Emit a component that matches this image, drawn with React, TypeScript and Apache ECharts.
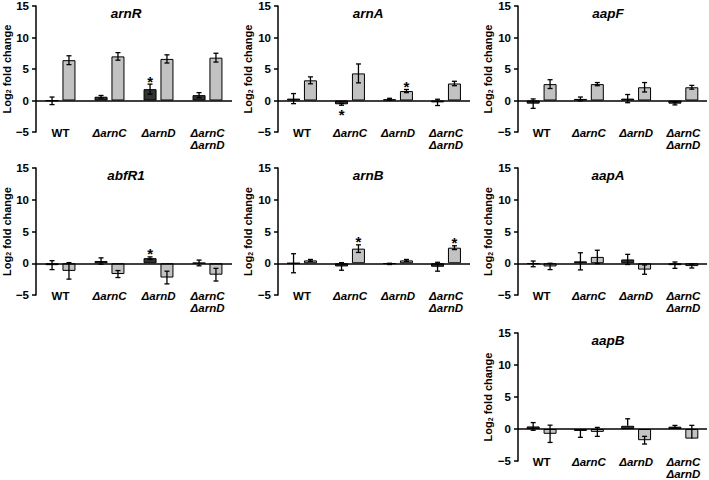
import React, { useEffect, useRef } from 'react';
import * as echarts from 'echarts';

// ---------- data ----------
const categories = ['WT', 'ΔarnC', 'ΔarnD', 'ΔarnC\nΔarnD'];
const yTicks = [-5, 0, 5, 10, 15];
const yTickLabels = ['−5', '0', '5', '10', '15'];
const genes = ['arnR', 'arnA', 'aapF', 'abfR1', 'arnB', 'aapA', 'aapB'];

// dark = first bar of each group, light = second bar; errors are [minus, plus] or symmetric numbers
const arnRDark = [-0.05, 0.6, 1.8, 0.85];
const arnRDarkErr = [0.6, 0.2, 0.8, 0.4];
const arnRLight = [6.4, 7.0, 6.6, 6.8];
const arnRLightErr = [0.7, 0.6, 0.65, 0.7];
const arnRStars = [[2, 0]];

const arnADark = [0.3, -0.6, 0.2, -0.3];
const arnADarkErr = [0.8, 0.15, 0.15, 0.5];
const arnALight = [3.2, 4.3, 1.5, 2.7];
const arnALightErr = [0.55, 1.5, 0.25, 0.35];
const arnAStars = [[1, 0], [2, 1]];

const aapFDark = [-0.5, 0.25, 0.3, -0.5];
const aapFDarkErr = [0.75, 0.3, 0.65, 0.2];
const aapFLight = [2.6, 2.6, 2.1, 2.1];
const aapFLightErr = [0.7, 0.25, 0.75, 0.3];
const aapFStars: number[][] = [];

const abfR1Dark = [-0.3, 0.35, 0.8, 0.05];
const abfR1DarkErr = [0.7, 0.5, 0.2, 0.45];
const abfR1Light = [-1.2, -1.7, -2.25, -1.8];
const abfR1LightErr = [1.3, 0.55, 1.0, 1.0];
const abfR1Stars = [[2, 0]];

const arnBDark = [0.0, -0.5, -0.1, -0.55];
const arnBDarkErr = [1.5, 0.6, 0.1, 0.7];
const arnBLight = [0.45, 2.3, 0.45, 2.45];
const arnBLightErr = [0.15, 0.6, 0.15, 0.3];
const arnBStars = [[1, 1], [3, 1]];

const aapADark = [-0.1, 0.3, 0.6, -0.3];
const aapADarkErr = [0.45, 1.35, 0.8, 0.5];
const aapALight = [-0.5, 1.0, -1.0, -0.45];
const aapALightErr = [0.5, 1.05, 0.73, 0.3];
const aapAStars: number[][] = [];

const aapBDark = [0.4, -0.3, 0.5, 0.36];
const aapBDarkErr: (number | number[])[] = [0.6, [1.0, 0], [0, 1.1], 0.2];
const aapBLight = [-0.75, -0.45, -1.75, -1.5];
const aapBLightErr: (number | number[])[] = [1.35, 0.7, 0.6, [0, 2.07]];
const aapBStars: number[][] = [];

const panelData = [
  [arnRDark, arnRDarkErr, arnRLight, arnRLightErr, arnRStars],
  [arnADark, arnADarkErr, arnALight, arnALightErr, arnAStars],
  [aapFDark, aapFDarkErr, aapFLight, aapFLightErr, aapFStars],
  [abfR1Dark, abfR1DarkErr, abfR1Light, abfR1LightErr, abfR1Stars],
  [arnBDark, arnBDarkErr, arnBLight, arnBLightErr, arnBStars],
  [aapADark, aapADarkErr, aapALight, aapALightErr, aapAStars],
  [aapBDark, aapBDarkErr, aapBLight, aapBLightErr, aapBStars],
] as any[];

// ---------- layout / style ----------
const layout = [
  { left: 36, top: 6, width: 196, height: 126 },
  { left: 278, top: 6, width: 192, height: 126 },
  { left: 518, top: 6, width: 189, height: 126 },
  { left: 36, top: 168, width: 196, height: 127 },
  { left: 278, top: 168, width: 192, height: 127 },
  { left: 518, top: 168, width: 189, height: 127 },
  { left: 518, top: 333, width: 189, height: 128 },
];
const FONT = '"Liberation Sans", Arial, sans-serif';
const BAR_W = 13;
const GAP = 0.3;
const OFF = (BAR_W + BAR_W * GAP) / 2;
const CAP = 2.5;
const DARK = '#333333';
const LIGHT = '#c2c2c2';
const LW = 1.5;

const errPair = (e: number | number[]) => (typeof e === 'number' ? [e, e] : e);

function buildOption() {
  const grid: any[] = [];
  const xAxis: any[] = [];
  const yAxis: any[] = [];
  const series: any[] = [];
  const graphic: any[] = [];

  layout.forEach((g, i) => {
    grid.push({ ...g, containLabel: false });
    xAxis.push({
      type: 'category',
      gridIndex: i,
      data: categories,
      axisLine: { show: false, onZero: false },
      axisTick: { show: false },
      axisLabel: {
        interval: 0,
        margin: -5,
        color: '#000',
        formatter: (v: string) =>
          v === 'WT' ? '{n|WT}' : v.split('\n').map((s) => `{i|${s}}`).join('\n'),
        rich: {
          n: { fontSize: 11.5, fontWeight: 'bold', fontFamily: FONT, color: '#000', lineHeight: 12 },
          i: { fontSize: 11.5, fontWeight: 'bold', fontStyle: 'italic', fontFamily: FONT, color: '#000', lineHeight: 12 },
        },
      },
    });
    yAxis.push({
      type: 'value',
      gridIndex: i,
      min: -5,
      max: 15,
      interval: 5,
      axisLine: { show: true, lineStyle: { color: '#000', width: LW } },
      axisTick: { show: true, length: 4, lineStyle: { color: '#000', width: LW } },
      splitLine: { show: false },
      axisLabel: {
        margin: 7,
        fontSize: 11.5,
        fontWeight: 'bold',
        fontFamily: FONT,
        color: '#000',
        formatter: (v: number) => yTickLabels[yTicks.indexOf(v)] ?? String(v),
      },
      name: '{a|Log}{s|2}{a| fold change}',
      nameLocation: 'middle',
      nameGap: 20,
      nameTextStyle: {
        color: '#000',
        rich: {
          a: { fontSize: 11, fontWeight: 'bold', fontFamily: FONT, color: '#000' },
          s: { fontSize: 7, fontWeight: 'bold', fontFamily: FONT, color: '#000', verticalAlign: 'bottom', lineHeight: 10 },
        },
      },
    });

    const [dark, darkErr, light, lightErr, stars] = panelData[i];
    series.push({
      type: 'bar',
      xAxisIndex: i,
      yAxisIndex: i,
      data: dark,
      barWidth: BAR_W,
      barGap: GAP * 100 + '%',
      itemStyle: { color: DARK, borderColor: '#000', borderWidth: 1 },
      markLine: {
        silent: true,
        symbol: ['none', 'none'],
        label: { show: false },
        lineStyle: { color: '#000', width: LW, type: 'solid' },
        data: [{ yAxis: 0 }],
      },
    });
    series.push({
      type: 'bar',
      xAxisIndex: i,
      yAxisIndex: i,
      data: light,
      barWidth: BAR_W,
      barGap: GAP * 100 + '%',
      itemStyle: { color: LIGHT, borderColor: '#000', borderWidth: 1 },
    });

    const errData: number[][] = [];
    const starSet = new Set((stars as number[][]).map((s) => s[0] + '_' + s[1]));
    [[dark, darkErr], [light, lightErr]].forEach(([vals, errs]: any, side) => {
      vals.forEach((v: number, ci: number) => {
        const [lo, hi] = errPair(errs[ci]);
        errData.push([ci, v, lo, hi, side, starSet.has(ci + '_' + side) ? 1 : 0]);
      });
    });
    series.push({
      type: 'custom',
      xAxisIndex: i,
      yAxisIndex: i,
      data: errData,
      z: 5,
      renderItem: (params: any, api: any) => {
        const ci = api.value(0);
        const v = api.value(1);
        const lo = api.value(2);
        const hi = api.value(3);
        const side = api.value(4);
        const star = api.value(5);
        const cx = api.coord([ci, 0])[0] + (side ? OFF : -OFF);
        const yHi = api.coord([ci, v + hi])[1];
        const yLo = api.coord([ci, v - lo])[1];
        const ls = { stroke: '#000', lineWidth: 1.3 };
        const children: any[] = [
          { type: 'line', shape: { x1: cx, y1: yLo, x2: cx, y2: yHi }, style: ls },
        ];
        if (hi > 0) children.push({ type: 'line', shape: { x1: cx - CAP, y1: yHi, x2: cx + CAP, y2: yHi }, style: ls });
        if (lo > 0) children.push({ type: 'line', shape: { x1: cx - CAP, y1: yLo, x2: cx + CAP, y2: yLo }, style: ls });
        if (star) {
          const below = v < 0;
          children.push({
            type: 'text',
            style: {
              text: '*',
              x: cx,
              y: below ? yLo + 9 : yHi - 3,
              align: 'center',
              verticalAlign: 'middle',
              fontSize: 15,
              fontWeight: 'bold',
              fontFamily: FONT,
              fill: '#000',
            },
          });
        }
        return { type: 'group', children };
      },
    });

    graphic.push({
      type: 'text',
      x: g.left + 90,
      y: g.top + 7,
      style: {
        text: genes[i],
        align: 'center',
        verticalAlign: 'middle',
        fontSize: 13.5,
        fontWeight: 'bold',
        fontStyle: 'italic',
        fontFamily: FONT,
        fill: '#000',
      },
    });
  });

  return {
    animation: false,
    backgroundColor: '#fff',
    grid,
    xAxis,
    yAxis,
    series,
    graphic,
  };
}

export default function App() {
  const ref = useRef<HTMLDivElement>(null);
  useEffect(() => {
    document.body.style.margin = '0';
    if (!ref.current) return;
    const chart = echarts.init(ref.current, null, { renderer: 'svg' });
    chart.setOption(buildOption() as any);
    return () => chart.dispose();
  }, []);
  return <div ref={ref} style={{ width: 709, height: 480 }} />;
}
